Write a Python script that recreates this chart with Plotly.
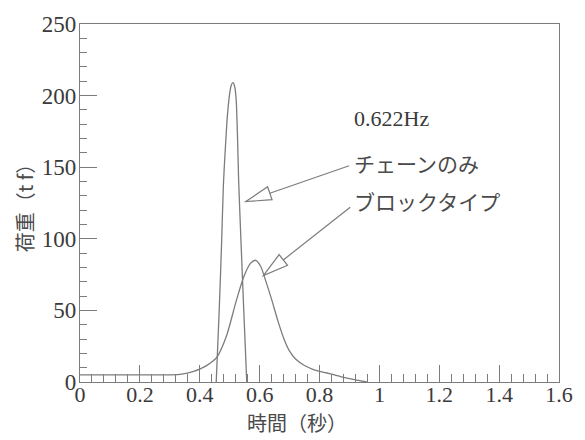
import math
import plotly.graph_objects as go

# ---- data ----
chain_t = [0.455, 0.465, 0.473, 0.479, 0.486, 0.492, 0.499, 0.505, 0.511, 0.517, 0.522, 0.526, 0.530, 0.538, 0.547, 0.557]
chain_f = [0, 50, 97, 138, 165, 185, 200, 207, 209, 206, 196, 172, 140, 97, 50, 0]

block_t = [0, 0.1, 0.2, 0.3, 0.34, 0.38, 0.40, 0.424, 0.456, 0.489, 0.521, 0.548, 0.570, 0.587,
           0.603, 0.619, 0.641, 0.662, 0.684, 0.70, 0.72, 0.75, 0.78, 0.82, 0.85, 0.88, 0.92, 0.958]
block_f = [5, 5, 5, 5, 5.5, 7.5, 9, 11.6, 17, 32, 56, 74, 83, 85,
           81, 71.5, 57, 42, 28.6, 21.5, 16, 11.5, 8.7, 6.5, 5, 3.2, 1.5, 0]

x_tickvals = [0, 0.2, 0.4, 0.6, 0.8, 1.0, 1.2, 1.4, 1.6]
x_ticktext = ["0", "0.2", "0.4", "0.6", "0.8", "1", "1.2", "1.4", "1.6"]
y_tickvals = [0, 50, 100, 150, 200, 250]

freq_label = "0.622Hz"
label_names = ["チェーンのみ", "ブロックタイプ"]
label_pos = [(0.909, 153), (0.909, 126.5)]      # text anchor (left-middle)
arrow_tail = [(0.899, 151), (0.9026, 122)]
arrow_tip = [(0.554, 126), (0.6126, 74.3)]
freq_pos = (0.909, 184)

# ---- layout geometry ----
W, H = 585, 440
ML, MR, MT, MB = 80, 14, 15, 58
XR = (0, 1.6)
YR = (0, 250)
PW = W - ML - MR
PH = H - MT - MB

def to_px(x, y):
    return (ML + (x - XR[0]) / (XR[1] - XR[0]) * PW,
            MT + PH - (y - YR[0]) / (YR[1] - YR[0]) * PH)

def to_data(px, py):
    return (XR[0] + (px - ML) / PW * (XR[1] - XR[0]),
            YR[0] + (MT + PH - py) / PH * (YR[1] - YR[0]))

LINE = "#7c7c7c"
TEXT = "#3a3a3a"
JTEXT = "#4a4a4a"
FONT = "Liberation Serif, Noto Sans CJK JP, serif"
JFONT = "Noto Sans CJK JP"

fig = go.Figure()
fig.add_trace(go.Scatter(x=block_t, y=block_f, mode="lines",
                         line=dict(color=LINE, width=1.3, shape="spline", smoothing=0.8),
                         hoverinfo="skip"))
fig.add_trace(go.Scatter(x=chain_t, y=chain_f, mode="lines",
                         line=dict(color=LINE, width=1.3, shape="spline", smoothing=0.6),
                         hoverinfo="skip"))

shapes = []
HL, HW = 26, 14
for (tx, ty), (hx, hy) in zip(arrow_tail, arrow_tip):
    sx, sy = to_px(tx, ty)
    ex, ey = to_px(hx, hy)
    dx, dy = ex - sx, ey - sy
    n = math.hypot(dx, dy)
    ux, uy = dx / n, dy / n
    bx, by = ex - ux * HL, ey - uy * HL
    px_, py_ = -uy, ux
    c1 = to_data(bx + px_ * HW / 2, by + py_ * HW / 2)
    c2 = to_data(bx - px_ * HW / 2, by - py_ * HW / 2)
    b = to_data(bx, by)
    shapes.append(dict(type="line", xref="x", yref="y", x0=tx, y0=ty, x1=b[0], y1=b[1],
                       line=dict(color=LINE, width=1.2)))
    shapes.append(dict(type="path", xref="x", yref="y",
                       path=f"M {hx},{hy} L {c1[0]},{c1[1]} L {c2[0]},{c2[1]} Z",
                       fillcolor="white", line=dict(color=LINE, width=1.2)))

annotations = [dict(x=freq_pos[0], y=freq_pos[1], xref="x", yref="y", text=freq_label,
                    showarrow=False, xanchor="left", yanchor="middle",
                    font=dict(family=FONT, size=22, color=TEXT))]
for name, (lx, ly) in zip(label_names, label_pos):
    annotations.append(dict(x=lx, y=ly, xref="x", yref="y", text=name, showarrow=False,
                            xanchor="left", yanchor="middle",
                            font=dict(family=JFONT, size=21, color=JTEXT)))
annotations.append(dict(x=0.725, y=-0.112, xref="x", yref="paper", text="時間（秒）",
                        showarrow=False, xanchor="center", yanchor="middle",
                        font=dict(family=JFONT, size=20, color=JTEXT)))

fig.update_layout(
    width=W, height=H,
    margin=dict(l=ML, r=MR, t=MT, b=MB),
    paper_bgcolor="white", plot_bgcolor="white",
    showlegend=False,
    shapes=shapes, annotations=annotations,
    font=dict(family=FONT, size=22, color=TEXT),
    xaxis=dict(range=list(XR), tickvals=x_tickvals, ticktext=x_ticktext,
               ticks="inside", ticklen=17, tickcolor=LINE, tickwidth=1,
               minor=dict(dtick=0.04, ticks="inside", ticklen=8, tickcolor=LINE),
               showline=True, linecolor=LINE, linewidth=1.2, mirror=True,
               showgrid=False, zeroline=False, ticklabelstandoff=-8,
               ticklabeloverflow="allow",
               tickfont=dict(family=FONT, size=22, color=TEXT)),
    yaxis=dict(range=list(YR), tickvals=y_tickvals,
               ticks="inside", ticklen=17, tickcolor=LINE, tickwidth=1,
               minor=dict(dtick=10, ticks="inside", ticklen=7, tickcolor=LINE),
               showline=True, linecolor=LINE, linewidth=1.2, mirror=True,
               showgrid=False, zeroline=False, ticklabelstandoff=-2,
               ticklabeloverflow="allow",
               tickfont=dict(family=FONT, size=23, color=TEXT),
               title=dict(text="荷重（t f）", standoff=2,
                          font=dict(family=JFONT, size=20, color=JTEXT))),
)

fig.write_html("out.html")
